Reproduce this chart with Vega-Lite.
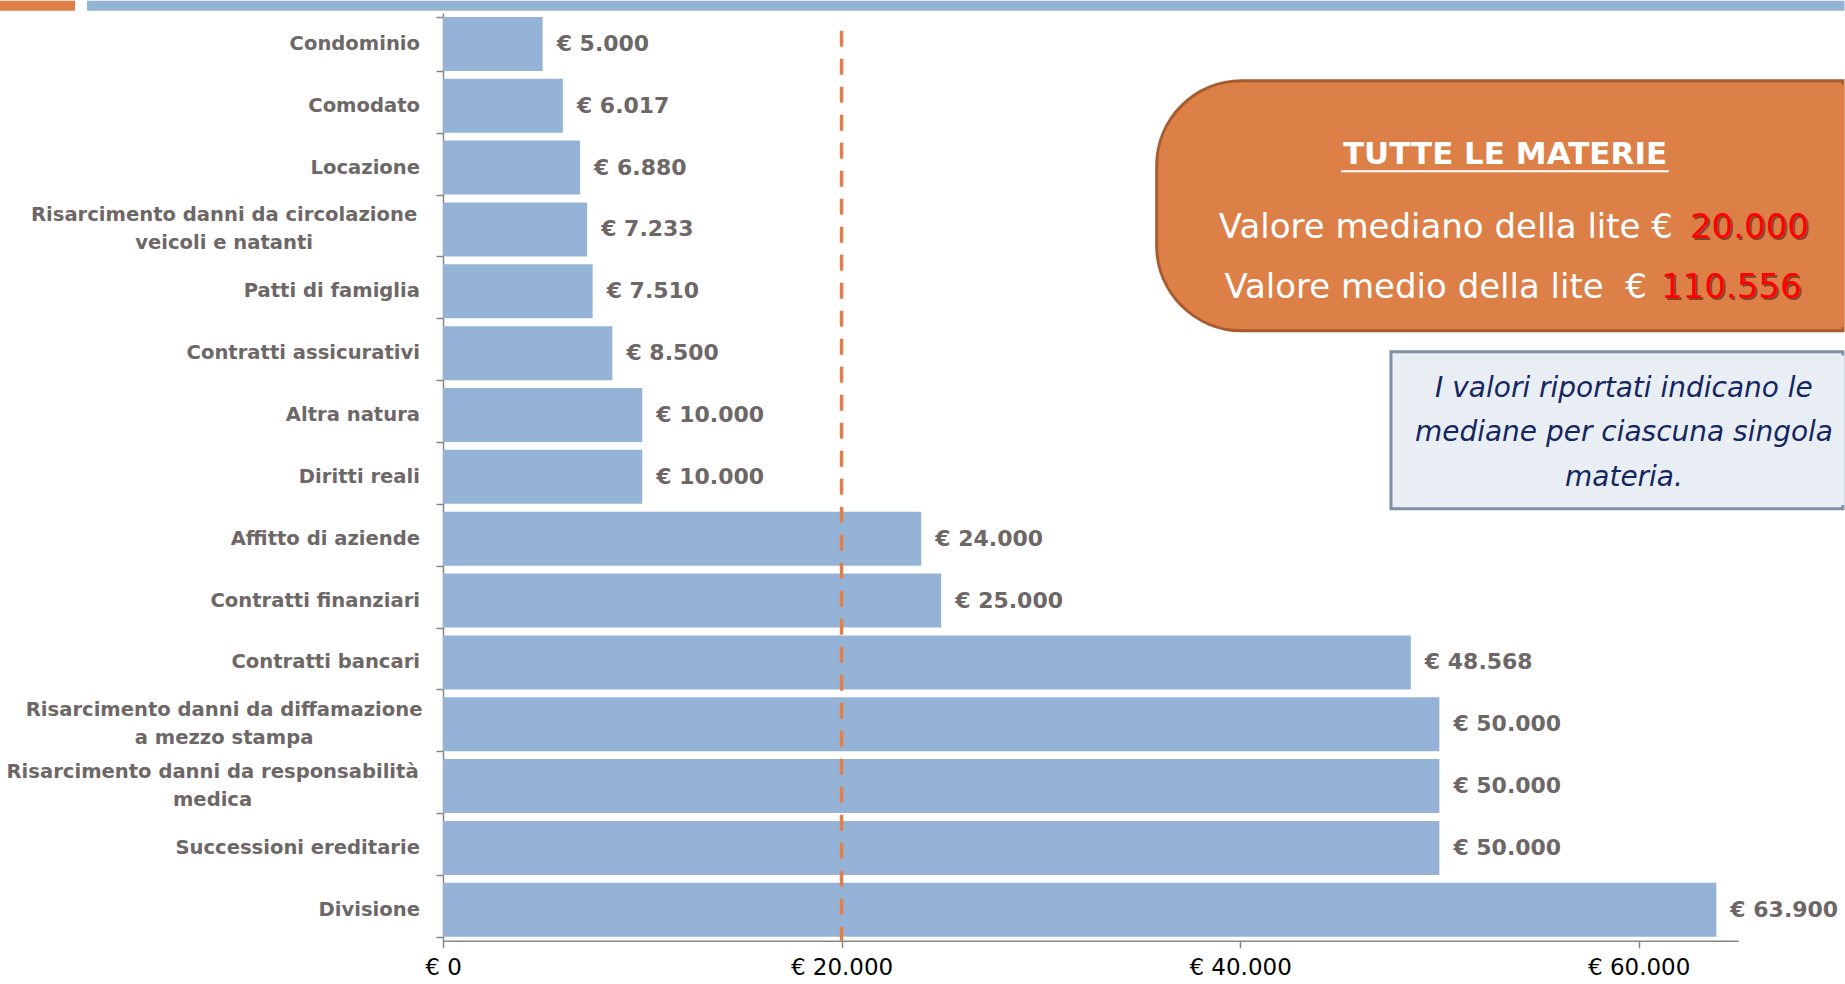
{
  "$schema": "https://vega.github.io/schema/vega-lite/v6.json",
  "padding": 0,
  "autosize": {"type": "pad"},
  "width": 1295.3,
  "height": 927.7,
  "config": {
    "view": {"stroke": null},
    "locale": {"number": {"decimal": ",", "thousands": ".", "grouping": [3], "currency": ["€ ", ""]}},
    "axisX": {"domainColor": "#868686", "domainWidth": 1.5, "tickColor": "#868686", "tickWidth": 1.5, "tickSize": 7, "labelFont": "DejaVu Sans", "labelFontSize": 23, "labelColor": "#000000", "labelPadding": 9, "labelFlush": false, "labelOverlap": false, "grid": false},
    "axisY": {"domainColor": "#868686", "domainWidth": 1.5, "tickColor": "#868686", "tickWidth": 1.5, "tickSize": 7, "grid": false}
  },
  "layer": [
    {
      "data": {"values": [
        {"materia": "Condominio", "value": 5000},
        {"materia": "Comodato", "value": 6017},
        {"materia": "Locazione", "value": 6880},
        {"materia": "Risarcimento danni da circolazione|veicoli e natanti", "value": 7233},
        {"materia": "Patti di famiglia", "value": 7510},
        {"materia": "Contratti assicurativi", "value": 8500},
        {"materia": "Altra natura", "value": 10000},
        {"materia": "Diritti reali", "value": 10000},
        {"materia": "Affitto di aziende", "value": 24000},
        {"materia": "Contratti finanziari", "value": 25000},
        {"materia": "Contratti bancari", "value": 48568},
        {"materia": "Risarcimento danni da diffamazione|a mezzo stampa", "value": 50000},
        {"materia": "Risarcimento danni da responsabilità|medica", "value": 50000},
        {"materia": "Successioni ereditarie", "value": 50000},
        {"materia": "Divisione", "value": 63900}
      ]},
      "encoding": {
        "y": {"field": "materia", "type": "nominal", "sort": null, "title": null,
          "scale": {"paddingInner": 0.127, "paddingOuter": 0.0635,
            "domain": ["Condominio", "Comodato", "Locazione", "Risarcimento danni da circolazione|veicoli e natanti", "Patti di famiglia", "Contratti assicurativi", "Altra natura", "Diritti reali", "Affitto di aziende", "Contratti finanziari", "Contratti bancari", "Risarcimento danni da diffamazione|a mezzo stampa", "Risarcimento danni da responsabilità|medica", "Successioni ereditarie", "Divisione"]},
          "axis": {"tickBand": "extent", "labels": false}}
      },
      "layer": [
        {"mark": {"type": "bar", "color": "#95B3D7"},
         "encoding": {"x": {"field": "value", "type": "quantitative", "title": null,
          "scale": {"domain": [0, 65000], "nice": false, "zero": true},
          "axis": {"values": [0, 20000, 40000, 60000], "format": "$,.0f"}}}},
        {"mark": {"type": "text", "align": "left", "baseline": "middle", "dx": 14, "font": "DejaVu Sans", "fontWeight": "bold", "fontSize": 22, "color": "#6e6767"},
         "encoding": {"x": {"field": "value", "type": "quantitative"}, "text": {"field": "value", "type": "quantitative", "format": "$,.0f"}}},
        {"transform": [{"filter": "indexof(datum.materia, '|') < 0"}],
         "mark": {"type": "text", "align": "right", "baseline": "middle", "dx": -23, "font": "DejaVu Sans", "fontWeight": "bold", "fontSize": 19.6, "color": "#6e6767"},
         "encoding": {"x": {"datum": 0, "type": "quantitative"}, "text": {"field": "materia", "type": "nominal"}}},
        {"transform": [{"filter": "indexof(datum.materia, '|') >= 0"}],
         "mark": {"type": "text", "align": "center", "baseline": "middle", "dy": -14, "lineHeight": 28, "font": "DejaVu Sans", "fontWeight": "bold", "fontSize": 19.6, "color": "#6e6767",
           "dx": {"expr": "-23 - 0.5 * 19.6 * 0.588 * length(split(datum.materia, '|')[0])"},
           "text": {"expr": "split(datum.materia, '|')"}},
         "encoding": {"x": {"datum": 0, "type": "quantitative"}}}
      ]
    },
    {
      "data": {"values": [{}]},
      "layer": [
        {"mark": {"type": "rect", "color": "#E07F48"},
         "encoding": {"x": {"datum": -22230, "type": "quantitative"}, "x2": {"datum": -18466},
           "y": {"datum": -0.1989, "type": "quantitative", "scale": {"domain": [0, 15], "reverse": true, "zero": false, "nice": false}, "axis": null}, "y2": {"datum": -0.0372}}},
        {"mark": {"type": "rect", "color": "#94B4D6"},
         "encoding": {"x": {"datum": -17864, "type": "quantitative"}, "x2": {"datum": 70330},
           "y": {"datum": -0.1989, "type": "quantitative", "scale": {"domain": [0, 15], "reverse": true, "zero": false, "nice": false}, "axis": null}, "y2": {"datum": -0.0372}}},
        {"mark": {"type": "rule", "color": "#E07F48", "strokeWidth": 3.5, "strokeDash": [16, 12]},
         "encoding": {"x": {"datum": 20000, "type": "quantitative"},
           "y": {"datum": 0.286, "type": "quantitative", "scale": {"domain": [0, 15], "reverse": true, "zero": false, "nice": false}, "axis": null}, "y2": {"datum": 15}}},
        {"mark": {"type": "rect", "fill": "#DD8048", "stroke": "#A65C2E", "strokeWidth": 3, "cornerRadiusTopLeft": 85, "cornerRadiusBottomLeft": 85},
         "encoding": {"x": {"datum": 35814, "type": "quantitative"}, "x2": {"datum": 70252},
           "y": {"datum": 1.095, "type": "quantitative", "scale": {"domain": [0, 15], "reverse": true, "zero": false, "nice": false}, "axis": null}, "y2": {"datum": 5.137}}},
        {"mark": {"type": "rect", "fill": "#DD8048", "strokeWidth": 0},
         "encoding": {"x": {"datum": 68096, "type": "quantitative"}, "x2": {"datum": 70330},
           "y": {"datum": 1.155, "type": "quantitative", "scale": {"domain": [0, 15], "reverse": true, "zero": false, "nice": false}, "axis": null}, "y2": {"datum": 5.077}}},
        {"mark": {"type": "text", "text": "TUTTE LE MATERIE", "align": "center", "baseline": "middle", "font": "DejaVu Sans", "fontWeight": "bold", "fontSize": 31, "color": "#FFFFFF"},
         "encoding": {"x": {"datum": 53292, "type": "quantitative"},
           "y": {"datum": 2.29, "type": "quantitative", "scale": {"domain": [0, 15], "reverse": true, "zero": false, "nice": false}, "axis": null}}},
        {"mark": {"type": "rule", "color": "#FFFFFF", "strokeWidth": 2},
         "encoding": {"x": {"datum": 45062, "type": "quantitative"}, "x2": {"datum": 61522},
           "y": {"datum": 2.56, "type": "quantitative", "scale": {"domain": [0, 15], "reverse": true, "zero": false, "nice": false}, "axis": null}}},
        {"mark": {"type": "text", "text": "Valore mediano della lite €", "align": "right", "baseline": "middle", "font": "DejaVu Sans", "fontSize": 34, "color": "#FFFFFF"},
         "encoding": {"x": {"datum": 61722, "type": "quantitative"},
           "y": {"datum": 3.48, "type": "quantitative", "scale": {"domain": [0, 15], "reverse": true, "zero": false, "nice": false}, "axis": null}}},
        {"mark": {"type": "text", "text": "20.000", "align": "left", "baseline": "middle", "font": "DejaVu Sans", "fontSize": 34, "color": "#4a1010", "opacity": 0.55, "dx": 2, "dy": 2},
         "encoding": {"x": {"datum": 62575, "type": "quantitative"},
           "y": {"datum": 3.48, "type": "quantitative", "scale": {"domain": [0, 15], "reverse": true, "zero": false, "nice": false}, "axis": null}}},
        {"mark": {"type": "text", "text": "20.000", "align": "left", "baseline": "middle", "font": "DejaVu Sans", "fontSize": 34, "color": "#FF0000"},
         "encoding": {"x": {"datum": 62575, "type": "quantitative"},
           "y": {"datum": 3.48, "type": "quantitative", "scale": {"domain": [0, 15], "reverse": true, "zero": false, "nice": false}, "axis": null}}},
        {"mark": {"type": "text", "text": "Valore medio della lite\u00a0 €", "align": "right", "baseline": "middle", "font": "DejaVu Sans", "fontSize": 34, "color": "#FFFFFF"},
         "encoding": {"x": {"datum": 60418, "type": "quantitative"},
           "y": {"datum": 4.45, "type": "quantitative", "scale": {"domain": [0, 15], "reverse": true, "zero": false, "nice": false}, "axis": null}}},
        {"mark": {"type": "text", "text": "110.556", "align": "left", "baseline": "middle", "font": "DejaVu Sans", "fontSize": 34, "color": "#4a1010", "opacity": 0.55, "dx": 2, "dy": 2},
         "encoding": {"x": {"datum": 61121, "type": "quantitative"},
           "y": {"datum": 4.45, "type": "quantitative", "scale": {"domain": [0, 15], "reverse": true, "zero": false, "nice": false}, "axis": null}}},
        {"mark": {"type": "text", "text": "110.556", "align": "left", "baseline": "middle", "font": "DejaVu Sans", "fontSize": 34, "color": "#FF0000"},
         "encoding": {"x": {"datum": 61121, "type": "quantitative"},
           "y": {"datum": 4.45, "type": "quantitative", "scale": {"domain": [0, 15], "reverse": true, "zero": false, "nice": false}, "axis": null}}},
        {"mark": {"type": "rect", "fill": "#E9EEF5", "stroke": "#7D90A6", "strokeWidth": 3},
         "encoding": {"x": {"datum": 47571, "type": "quantitative"}, "x2": {"datum": 70252},
           "y": {"datum": 5.476, "type": "quantitative", "scale": {"domain": [0, 15], "reverse": true, "zero": false, "nice": false}, "axis": null}, "y2": {"datum": 8.015}}},
        {"mark": {"type": "rect", "fill": "#E9EEF5", "strokeWidth": 0},
         "encoding": {"x": {"datum": 69600, "type": "quantitative"}, "x2": {"datum": 70330},
           "y": {"datum": 5.536, "type": "quantitative", "scale": {"domain": [0, 15], "reverse": true, "zero": false, "nice": false}, "axis": null}, "y2": {"datum": 7.955}}},
        {"mark": {"type": "text", "text": ["I valori riportati indicano le", "mediane per ciascuna singola", "materia."], "align": "center", "baseline": "middle", "lineHeight": 44.5, "font": "DejaVu Sans", "fontStyle": "italic", "fontSize": 28, "color": "#14265F"},
         "encoding": {"x": {"datum": 59263, "type": "quantitative"},
           "y": {"datum": 6.074, "type": "quantitative", "scale": {"domain": [0, 15], "reverse": true, "zero": false, "nice": false}, "axis": null}}}
      ]
    }
  ],
  "resolve": {"scale": {"y": "independent"}}
}
